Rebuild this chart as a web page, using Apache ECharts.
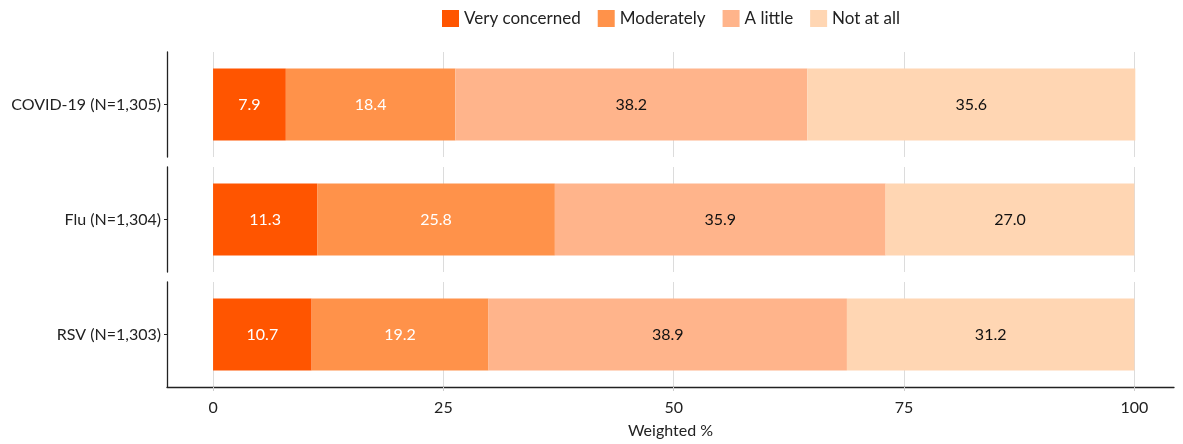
<!DOCTYPE html>
<html>
<head>
<meta charset="utf-8">
<script src="https://cdn.jsdelivr.net/npm/echarts@6/dist/echarts.min.js"></script>
<style>
    html, body { margin: 0; padding: 0; background: #fff; }
    #chart { width: 1183px; height: 444px; }
</style>
</head>
<body>
<div id="chart"></div>
<script>
    // data
    const categories = ['COVID-19 (N=1,305)', 'Flu (N=1,304)', 'RSV (N=1,303)'];
    const levels = ['Very concerned', 'Moderately', 'A little', 'Not at all'];
    const veryConcerned = [7.9, 11.3, 10.7];
    const moderately = [18.4, 25.8, 19.2];
    const aLittle = [38.2, 35.9, 38.9];
    const notAtAll = [35.6, 27.0, 31.2];
    const xTicks = [0, 25, 50, 75, 100];

    const values = [veryConcerned, moderately, aLittle, notAtAll];
    const colors = ['#ff5500', '#ff924a', '#ffb48b', '#ffd6b3'];
    const labelColors = ['#fff', '#fff', '#111', '#111'];
    const font = 'Lato, "Open Sans", sans-serif';

    const chart = echarts.init(document.getElementById('chart'));

    // one small panel per category, stacked vertically
    const panelTop = [52, 167, 282];
    const panelH = 105;
    const grids = [], xAxes = [], yAxes = [], series = [];

    categories.forEach((cat, i) => {
        const last = i === categories.length - 1;
        grids.push({ left: 167, width: 1007, top: panelTop[i], height: panelH });
        xAxes.push({
            type: 'value',
            gridIndex: i,
            min: -5,
            max: 104.3,
            axisLine: { show: last, onZero: false, lineStyle: { color: '#222', width: 1.3 } },
            axisTick: { show: last, length: 4, customValues: xTicks, lineStyle: { color: '#ccc' } },
            axisLabel: {
                show: last, customValues: xTicks, color: '#222',
                fontSize: 16, fontFamily: font, margin: 13
            },
            splitLine: { show: true, lineStyle: { color: '#dcdcdc', width: 1 } },
            name: last ? 'Weighted %' : '',
            nameLocation: 'middle',
            nameGap: 36,
            nameTextStyle: { color: '#222', fontSize: 16, fontFamily: font }
        });
        yAxes.push({
            type: 'category',
            gridIndex: i,
            data: [cat],
            axisLine: { show: true, onZero: false, lineStyle: { color: '#222', width: 1.3 } },
            axisTick: { show: true, length: 3, alignWithLabel: true, lineStyle: { color: '#222' } },
            axisLabel: { color: '#222', fontSize: 16, fontFamily: font, margin: 6 },
            splitLine: { show: false }
        });
        levels.forEach((lv, k) => {
            series.push({
                name: lv,
                type: 'bar',
                stack: 'p' + i,
                xAxisIndex: i,
                yAxisIndex: i,
                barWidth: 72,
                data: [values[k][i]],
                itemStyle: { color: colors[k] },
                label: {
                    show: true,
                    position: 'inside',
                    color: labelColors[k],
                    fontSize: 16,
                    fontFamily: font,
                    formatter: p => p.value.toFixed(1)
                },
                emphasis: { disabled: true },
                animation: false
            });
        });
    });

    const option = {
        animation: false,
        color: colors,
        legend: {
            data: levels,
            top: 5,
            left: 437,
            icon: 'rect',
            itemWidth: 17,
            itemHeight: 17,
            itemGap: 17,
            textStyle: { color: '#222', fontSize: 17, fontFamily: font, padding: [0, 0, 6, 0] }
        },
        grid: grids,
        xAxis: xAxes,
        yAxis: yAxes,
        series: series
    };

    chart.setOption(option);
</script>
</body>
</html>
